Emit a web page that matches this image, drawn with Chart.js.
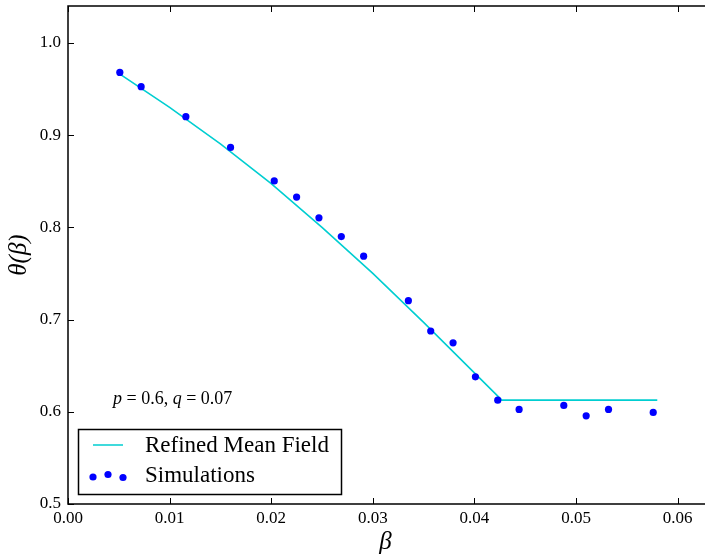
<!DOCTYPE html>
<html>
<head>
<meta charset="utf-8">
<script src="https://cdn.jsdelivr.net/npm/chart.js@4"></script>
<style>
  body { margin: 0; background: #fff; overflow: hidden; }
</style>
</head>
<body>
<canvas id="myChart" width="707" height="557"></canvas>
<script>
// values
const fieldBeta = [0.005, 0.010, 0.015, 0.020, 0.025, 0.030, 0.035, 0.0427, 0.058];
const fieldTheta = [0.967, 0.930, 0.8905, 0.8475, 0.800, 0.750, 0.697, 0.6126, 0.6126];

const simBeta = [0.0051, 0.0072, 0.0116, 0.0160, 0.0203, 0.0225, 0.0247, 0.0269, 0.0291, 0.0335,
    0.0357, 0.0379, 0.0401, 0.0423, 0.0444, 0.0488, 0.0510, 0.0532, 0.0576];
const simTheta = [0.968, 0.9525, 0.920, 0.8866, 0.8503, 0.8328, 0.8103, 0.790, 0.7687, 0.7205,
    0.6876, 0.6748, 0.6379, 0.6126, 0.6025, 0.6069, 0.5956, 0.6025, 0.5993];

const xTicks = [0.00, 0.01, 0.02, 0.03, 0.04, 0.05, 0.06];
const yTicks = [0.5, 0.6, 0.7, 0.8, 0.9, 1.0];

const lineColor = '#00ced1';
const dotColor = '#0000ff';
const serif = "'Liberation Serif', 'DejaVu Serif', serif";

const ctx = document.getElementById('myChart');

// inward ticks + left/top/bottom spines, legend and annotation
const decor = {
    id: 'decor',
    afterDraw(chart) {
        const { ctx, chartArea: a, scales: { x, y } } = chart;
        const seg = (x1, y1, x2, y2) => { ctx.beginPath(); ctx.moveTo(x1, y1); ctx.lineTo(x2, y2); ctx.stroke(); };
        ctx.save();
        ctx.strokeStyle = '#000';
        ctx.lineWidth = 1;
        xTicks.forEach(v => {
            const px = Math.round(x.getPixelForValue(v)) + 0.5;
            seg(px, a.bottom, px, a.bottom - 6);
            seg(px, a.top, px, a.top + 6);
        });
        yTicks.forEach(v => {
            const py = Math.round(y.getPixelForValue(v)) + 0.5;
            seg(a.left, py, a.left + 6, py);
        });
        ctx.lineWidth = 1.5;
        ctx.beginPath();
        ctx.moveTo(a.right + 2, a.top);
        ctx.lineTo(a.left, a.top);
        ctx.lineTo(a.left, a.bottom);
        ctx.lineTo(a.right + 2, a.bottom);
        ctx.stroke();

        // annotation
        ctx.fillStyle = '#000';
        ctx.textBaseline = 'middle';
        ctx.textAlign = 'left';
        let tx = 113;
        const ty = 399;
        [['p', 'italic'], [' = 0.6, ', 'normal'], ['q', 'italic'], [' = 0.07', 'normal']].forEach(([t, st]) => {
            ctx.font = st + ' 18px ' + serif;
            ctx.fillText(t, tx, ty);
            tx += ctx.measureText(t).width;
        });

        // legend
        const lx = 78.5, ly = 429.5, lw = 263, lh = 65;
        ctx.fillStyle = '#fff';
        ctx.fillRect(lx, ly, lw, lh);
        ctx.lineWidth = 1.5;
        ctx.strokeRect(lx, ly, lw, lh);
        const ds = chart.data.datasets;
        ctx.font = '23px ' + serif;
        ctx.fillStyle = '#000';
        ctx.fillText(ds[1].label, 145, 446);
        ctx.fillText(ds[0].label, 145, 476);
        ctx.strokeStyle = lineColor;
        ctx.lineWidth = 1.5;
        seg(93, 445, 123, 445);
        ctx.fillStyle = dotColor;
        [[93, 477], [108, 474.5], [123, 477.5]].forEach(([dx, dy]) => {
            ctx.beginPath();
            ctx.arc(dx, dy, 3.6, 0, Math.PI * 2);
            ctx.fill();
        });
        ctx.restore();
    }
};

new Chart(ctx, {
    type: 'scatter',
    data: {
        datasets: [{
            label: 'Simulations',
            data: simBeta.map((b, i) => ({ x: b, y: simTheta[i] })),
            backgroundColor: dotColor,
            borderColor: dotColor,
            pointRadius: 3.6,
            pointBorderWidth: 0,
            showLine: false,
            order: 0
        }, {
            type: 'line',
            label: 'Refined Mean Field',
            data: fieldBeta.map((b, i) => ({ x: b, y: fieldTheta[i] })),
            borderColor: lineColor,
            borderWidth: 1.6,
            pointRadius: 0,
            tension: 0,
            fill: false,
            order: 1
        }]
    },
    options: {
        responsive: false,
        animation: false,
        layout: { padding: { top: 6, right: 0, left: 0, bottom: 0 } },
        plugins: {
            legend: { display: false },
            tooltip: { enabled: false }
        },
        scales: {
            x: {
                type: 'linear',
                min: 0,
                max: 0.0625,
                grid: { display: false, drawTicks: false },
                border: { display: false },
                ticks: {
                    stepSize: 0.01,
                    includeBounds: false,
                    padding: 4,
                    color: '#000',
                    font: { family: serif, size: 17 },
                    callback: v => v.toFixed(2)
                },
                title: {
                    display: true,
                    text: 'β',
                    color: '#000',
                    padding: 0,
                    font: { family: serif, size: 25, style: 'italic' }
                },
                afterFit: s => { s.height = 53; s.paddingLeft = 0; s.paddingRight = 0; }
            },
            y: {
                min: 0.5,
                max: 1.04,
                grid: { display: false, drawTicks: false },
                border: { display: false },
                ticks: {
                    stepSize: 0.1,
                    includeBounds: false,
                    padding: 7,
                    color: '#000',
                    font: { family: serif, size: 17 },
                    callback: v => v.toFixed(1)
                },
                title: {
                    display: true,
                    text: 'θ(β)',
                    color: '#000',
                    padding: { top: 4, bottom: 0 },
                    font: { family: serif, size: 25, style: 'italic' }
                },
                afterFit: s => { s.width = 68; s.paddingTop = 0; s.paddingBottom = 0; }
            }
        }
    },
    plugins: [decor]
});
</script>
</body>
</html>
